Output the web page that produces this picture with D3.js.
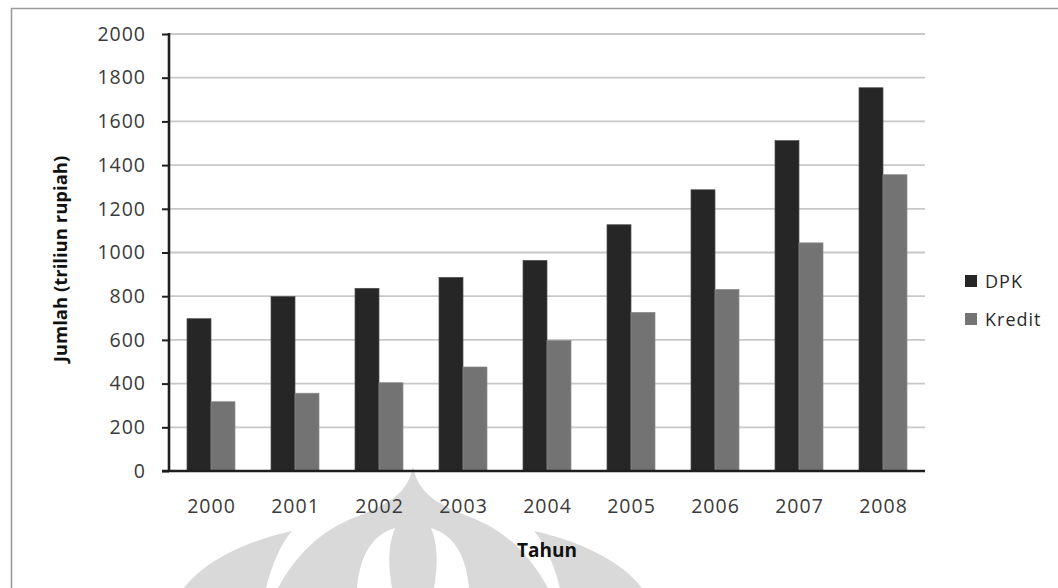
<!DOCTYPE html>
<html>
<head>
<meta charset="utf-8">
<script src="https://cdn.jsdelivr.net/npm/d3@7"></script>
<style>
  html, body { margin: 0; padding: 0; background: #fff; }
  svg { display: block; }
</style>
</head>
<body>
<svg id="chart" width="1058" height="588"></svg>
<script>
// ---- data ----
const years = ["2000","2001","2002","2003","2004","2005","2006","2007","2008"];
const dpk = [697, 798, 836, 886, 964, 1127, 1287, 1512, 1754];
const kredit = [317, 356, 404, 476, 597, 726, 831, 1044, 1356];
const seriesNames = ["DPK", "Kredit"];
const yTicks = [0, 200, 400, 600, 800, 1000, 1200, 1400, 1600, 1800, 2000];
const yTitle = "Jumlah (triliun rupiah)";
const xTitle = "Tahun";

// ---- layout ----
const W = 1058, H = 588;
const plot = { left: 169, right: 925, top: 34, bottom: 471 };
const colors = { DPK: "#262626", Kredit: "#737373" };
const font = "'Open Sans', 'DejaVu Sans', sans-serif";

const svg = d3.select("#chart");
svg.append("rect").attr("width", W).attr("height", H).attr("fill", "#fff");

// ---- watermark (background logo) ----
const wm = svg.append("g").attr("class", "watermark");
const grey = "#d9d9d9";
wm.append("path").attr("fill", grey)
  .attr("d", "M413,466 C418,495 440,505 470,517 C505,530 530,555 548,588 L278,588 C296,555 321,530 356,517 C386,505 408,495 413,466 Z");
wm.append("path").attr("fill", "#fff")
  .attr("d", "M395,528 C372,535 360,555 357,588 L392,588 C388,565 388,545 395,528 Z");
wm.append("path").attr("fill", "#fff")
  .attr("d", "M431,528 C454,535 466,555 469,588 L434,588 C438,565 438,545 431,528 Z");
wm.append("path").attr("fill", grey)
  .attr("d", "M292,531 C250,540 205,560 184,588 L266,588 C272,565 280,545 292,531 Z");
wm.append("path").attr("fill", grey)
  .attr("d", "M534,531 C576,540 621,560 642,588 L560,588 C554,565 546,545 534,531 Z");

// ---- outer frame ----
svg.append("path")
  .attr("d", `M11.5,${H} L11.5,8.5 L${W},8.5`)
  .attr("fill", "none").attr("stroke", "#9a9a9a").attr("stroke-width", 1.6);

// ---- scales ----
const p = 36 / 84;
const x = d3.scaleBand().domain(years).range([plot.left, plot.right])
  .paddingInner(p).paddingOuter(p / 2);
const xs = d3.scaleBand().domain(seriesNames).range([0, x.bandwidth()]).padding(0);
const y = d3.scaleLinear().domain([0, 2000]).range([plot.bottom, plot.top]);

// ---- gridlines ----
svg.append("g")
  .selectAll("line").data(yTicks.filter(t => t > 0)).join("line")
  .attr("x1", plot.left).attr("x2", plot.right)
  .attr("y1", d => y(d)).attr("y2", d => y(d))
  .attr("stroke", "#c8c8c8").attr("stroke-width", 1.8);

// ---- bars ----
const rows = years.map((yr, i) => ({ year: yr, DPK: dpk[i], Kredit: kredit[i] }));
const groups = svg.append("g").selectAll("g").data(rows).join("g")
  .attr("transform", d => `translate(${x(d.year)},0)`);
groups.selectAll("rect")
  .data(d => seriesNames.map(s => ({ key: s, value: d[s] })))
  .join("rect")
  .attr("x", d => xs(d.key))
  .attr("width", xs.bandwidth())
  .attr("y", d => y(d.value))
  .attr("height", d => y(0) - y(d.value))
  .attr("fill", d => colors[d.key])
  .attr("stroke", d => d.key === "DPK" ? "#4d4d4d" : "#8a8a8a")
  .attr("stroke-width", 0.7);

// ---- y axis ----
const yAxis = svg.append("g")
  .attr("transform", `translate(${plot.left},0)`)
  .call(d3.axisLeft(y).tickValues(yTicks).tickFormat(d3.format("d"))
    .tickSizeInner(7).tickSizeOuter(0).tickPadding(16));
yAxis.select(".domain").attr("stroke", "#1e1e1e").attr("stroke-width", 2.6)
  .attr("d", `M0,${plot.top - 1}V${plot.bottom + 1}`);
yAxis.selectAll(".tick line").attr("stroke", "#1e1e1e").attr("stroke-width", 2);
yAxis.selectAll(".tick text")
  .attr("font-family", font).attr("font-size", "19.5px")
  .attr("letter-spacing", "1px").attr("fill", "#3a3a3a");

// ---- x axis ----
const xAxis = svg.append("g")
  .attr("transform", `translate(0,${plot.bottom})`)
  .call(d3.axisBottom(x).tickSize(0).tickPadding(28));
xAxis.select(".domain").attr("stroke", "#1e1e1e").attr("stroke-width", 2.6)
  .attr("d", `M${plot.left - 7},0H${plot.right}`);
xAxis.selectAll(".tick text")
  .attr("font-family", font).attr("font-size", "19.5px")
  .attr("letter-spacing", "1px").attr("dx", "0.5px").attr("fill", "#3a3a3a");

// ---- axis titles ----
svg.append("text")
  .attr("transform", `translate(67,259) rotate(-90)`)
  .attr("text-anchor", "middle")
  .attr("font-family", font).attr("font-size", "18.5px").attr("font-weight", "bold")
  .attr("fill", "#111")
  .text(yTitle);

svg.append("text")
  .attr("x", (plot.left + plot.right) / 2).attr("y", 557)
  .attr("text-anchor", "middle")
  .attr("font-family", font).attr("font-size", "19px").attr("font-weight", "bold")
  .attr("fill", "#111")
  .text(xTitle);

// ---- legend ----
const legend = svg.append("g").selectAll("g").data(seriesNames).join("g")
  .attr("transform", (d, i) => `translate(965,${275 + i * 38})`);
legend.append("rect").attr("width", 12).attr("height", 12)
  .attr("fill", d => colors[d]);
legend.append("text")
  .attr("x", 20).attr("y", 12.5)
  .attr("font-family", font).attr("font-size", "18px")
  .attr("letter-spacing", "1px").attr("fill", "#2a2a2a")
  .text(d => d);
</script>
</body>
</html>
